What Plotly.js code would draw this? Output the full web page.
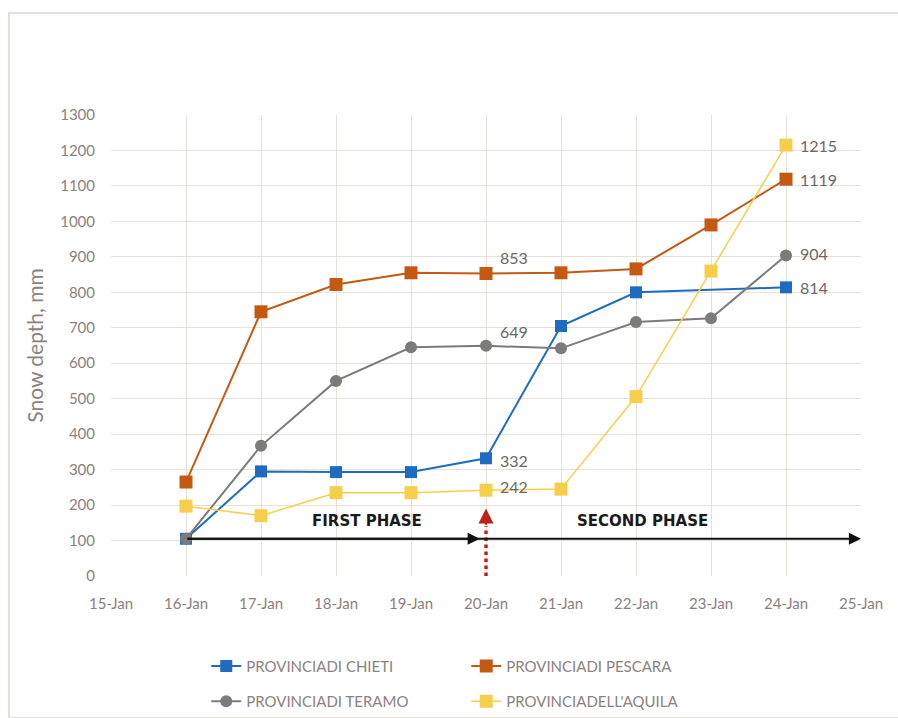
<!DOCTYPE html>
<html>
<head>
<meta charset="utf-8">
<script src="https://cdn.plot.ly/plotly-3.0.1.min.js"></script>
<style>
  html, body { margin: 0; padding: 0; background: #ffffff; overflow: hidden; width: 898px; height: 718px; }
  #frame { position: absolute; left: 8px; top: 12px; width: 888px; height: 703px;
           border-left: 2px solid #e6dedb; border-top: 2px solid #e6dedb; border-bottom: 2px solid #e6dedb; }
  #chart { position: absolute; left: 0; top: 0; width: 898px; height: 718px; }
</style>
</head>
<body>
<div id="frame"></div>
<div id="chart"></div>
<script>
// ---- data ----
var dates = ['2012-01-16','2012-01-17','2012-01-18','2012-01-19','2012-01-20','2012-01-21','2012-01-22','2012-01-23','2012-01-24'];
var chieti  = [105, 295, 293, 293, 332, 705, 800, null, 814];
var pescara = [265, 745, 822, 855, 853, 855, 866, 990, 1119];
var teramo  = [105, 367, 550, 645, 649, 642, 716, 727, 904];
var aquila  = [197, 170, 235, 235, 242, 245, 506, 860, 1215];
var seriesNames = ['PROVINCIADI CHIETI', 'PROVINCIADI PESCARA', 'PROVINCIADI TERAMO', "PROVINCIADELL'AQUILA"];
var yTickVals = [0,100,200,300,400,500,600,700,800,900,1000,1100,1200,1300];
var xRange = ['2012-01-15', '2012-01-25'];
// value labels: [series index, date index]
var valueLabels = [[1,4],[2,4],[0,4],[3,4],[3,8],[1,8],[2,8],[0,8]];
var phaseLabels = ['FIRST PHASE', 'SECOND PHASE'];
var phaseLabelX = ['2012-01-18 10:00', '2012-01-22 02:00'];
var phaseLabelY = 155;
var phaseArrowY = 105;
var phaseArrowStart = '2012-01-16';
var phaseArrowMid = '2012-01-19 22:00';
var phaseArrowEnd = '2012-01-25';
var splitDate = '2012-01-20';
var splitDotTop = 140;
var splitArrowTip = 190;

var allSeries = [chieti, pescara, teramo, aquila];
var colors = ['#1f6bc2', '#c45a12', '#7d7b79', '#f6cf4a'];
var symbols = ['square', 'square', 'circle', 'square'];
var widths = [2, 2, 2, 1.5];
var sizes = [12, 13, 12, 13];
var legendOf = ['legend', 'legend', 'legend2', 'legend2'];

var grey = '#8a8281';
var traces = allSeries.map(function (s, i) {
  return {
    x: dates, y: s, name: seriesNames[i], type: 'scatter', mode: 'lines+markers',
    connectgaps: true, legend: legendOf[i],
    line: { color: colors[i], width: widths[i] },
    marker: { color: colors[i], symbol: symbols[i], size: sizes[i] }
  };
});

var annotations = [];
valueLabels.forEach(function (vl) {
  var si = vl[0], di = vl[1];
  annotations.push({
    x: dates[di], y: allSeries[si][di], xref: 'x', yref: 'y',
    text: String(allSeries[si][di]), showarrow: false,
    xanchor: 'left', yanchor: 'middle', xshift: 12,
    yshift: (si === 1 && di === 4) ? 16 : (si === 2 && di === 4) ? 14 : (si === 3 && di === 4) ? 4 : (si === 0 && di === 4) ? -2 : (si === 2 && di === 8) ? 2 : 0,
    font: { family: 'Lato, sans-serif', size: 16, color: '#6e6766' }
  });
});
// phase labels
phaseLabels.forEach(function (t, i) {
  annotations.push({
    x: phaseLabelX[i], y: phaseLabelY, xref: 'x', yref: 'y', text: '<b>' + t + '</b>',
    showarrow: false, font: { family: 'DejaVu Sans, sans-serif', size: 15, color: '#1a1a1a' }
  });
});
// black arrows
annotations.push({
  x: phaseArrowEnd, y: phaseArrowY, ax: phaseArrowStart, ay: phaseArrowY,
  xref: 'x', yref: 'y', axref: 'x', ayref: 'y', text: '', showarrow: true,
  arrowhead: 2, arrowsize: 1.1, arrowwidth: 2.2, arrowcolor: '#111111'
});
annotations.push({
  x: phaseArrowMid, y: phaseArrowY, ax: phaseArrowStart, ay: phaseArrowY,
  xref: 'x', yref: 'y', axref: 'x', ayref: 'y', text: '', showarrow: true,
  arrowhead: 2, arrowsize: 1.1, arrowwidth: 2.2, arrowcolor: '#111111'
});
// red arrow head
annotations.push({
  x: splitDate, y: splitArrowTip, ax: splitDate, ay: splitDotTop,
  xref: 'x', yref: 'y', axref: 'x', ayref: 'y', text: '', showarrow: true,
  arrowhead: 2, arrowsize: 1.2, arrowwidth: 2.5, arrowcolor: '#c0201c'
});

var shapes = [{
  type: 'line', xref: 'x', yref: 'y', x0: splitDate, x1: splitDate, y0: 0, y1: splitDotTop,
  line: { color: '#c0201c', width: 3.5, dash: 'dot' }
}];

var legendBase = {
  orientation: 'h', x: 0.127, xanchor: 'left', yanchor: 'top', yref: 'container',
  entrywidth: 215, entrywidthmode: 'pixels', traceorder: 'normal',
  font: { family: 'Lato, sans-serif', size: 15, color: grey }, bgcolor: 'rgba(0,0,0,0)'
};

var layout = {
  width: 898, height: 718,
  margin: { l: 111, r: 37, t: 115, b: 142, autoexpand: false },
  paper_bgcolor: 'rgba(0,0,0,0)', plot_bgcolor: '#ffffff',
  font: { family: 'Lato, sans-serif', color: grey },
  showlegend: true,
  xaxis: {
    type: 'date', range: xRange, dtick: 86400000, tick0: '2012-01-15', automargin: false,
    tickformat: '%-d-%b', showgrid: true, gridcolor: '#e9dfdb', gridwidth: 1,
    zeroline: false, showline: false, ticks: 'outside', ticklen: 14, tickcolor: 'rgba(0,0,0,0)',
    tickfont: { family: 'Lato, sans-serif', size: 15, color: grey }
  },
  yaxis: {
    range: [0, 1300], tickvals: yTickVals, showgrid: true, gridcolor: '#e9dfdb', gridwidth: 1,
    zeroline: false, showline: false, ticks: 'outside', ticklen: 12, tickcolor: 'rgba(0,0,0,0)',
    automargin: false,
    tickfont: { family: 'Lato, sans-serif', size: 15, color: grey },
    title: { text: 'Snow depth, mm', font: { family: 'Lato, sans-serif', size: 21, color: grey }, standoff: 10 }
  },
  legend: Object.assign({}, legendBase, { y: 0.095 }),
  legend2: Object.assign({}, legendBase, { y: 0.046 }),
  annotations: annotations,
  shapes: shapes
};

Plotly.newPlot('chart', traces, layout, { displayModeBar: false, staticPlot: true });
</script>
</body>
</html>
